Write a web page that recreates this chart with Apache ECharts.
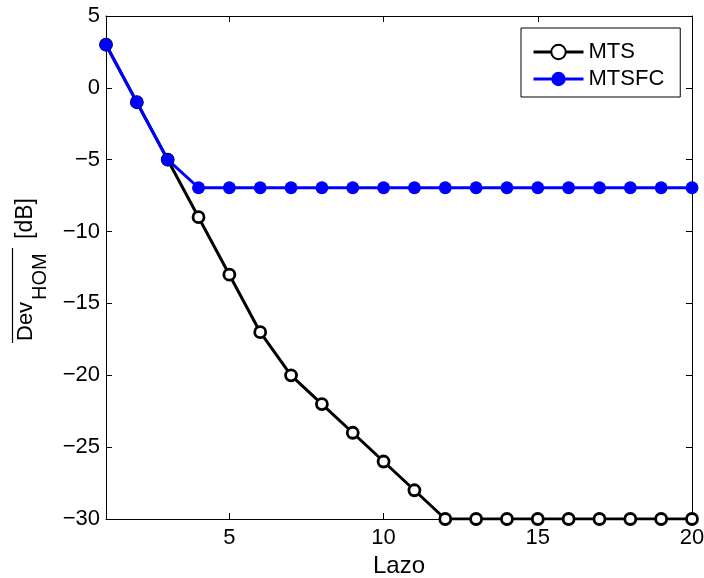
<!DOCTYPE html>
<html><head><meta charset="utf-8">
<script src="https://cdn.jsdelivr.net/npm/echarts@6/dist/echarts.min.js"></script>
<style>html,body{margin:0;padding:0;background:#fff}#c{width:704px;height:578px}</style>
</head><body><div id="c"></div>
<script>
const lazo = [1,2,3,4,5,6,7,8,9,10,11,12,13,14,15,16,17,18,19,20];
const mts = [3,-1,-5,-9,-13,-17,-20,-22,-24,-26,-28,-30,-30,-30,-30,-30,-30,-30,-30,-30];
const mtsfc = [3,-1,-5,-6.95,-6.95,-6.95,-6.95,-6.95,-6.95,-6.95,-6.95,-6.95,-6.95,-6.95,-6.95,-6.95,-6.95,-6.95,-6.95,-6.95];
const xTicks = [5,10,15,20];
const yTicks = [5,0,-5,-10,-15,-20,-25,-30];

const FONT = '"Liberation Sans", Arial, sans-serif';
const chart = echarts.init(document.getElementById('c'));
const fmt = v => String(v).replace('-', '\u2212');
const baseX = {
  type:'value', min:1, max:20,
  axisLine:{show:true, onZero:false, lineStyle:{color:'#000', width:1}},
  splitLine:{show:false},
  axisTick:{show:true, inside:true, length:6, customValues:xTicks, lineStyle:{color:'#000'}},
};
const baseY = {
  type:'value', min:-30, max:5, interval:5,
  axisLine:{show:true, onZero:false, lineStyle:{color:'#000', width:1}},
  splitLine:{show:false},
  axisTick:{show:true, inside:true, length:6, lineStyle:{color:'#000'}},
};
chart.setOption({
  animation:false,
  backgroundColor:'#fff',
  grid:{left:106, right:12, top:16, bottom:59, containLabel:false, outerBoundsMode:'none'},
  xAxis:[
    Object.assign({}, baseX, {position:'bottom',
      axisLabel:{show:true, customValues:xTicks, color:'#000', fontSize:22, fontFamily:FONT, margin:8, formatter:fmt},
      name:'Lazo', nameLocation:'middle', nameGap:31,
      nameTextStyle:{color:'#000', fontSize:24, fontFamily:FONT}}),
    Object.assign({}, baseX, {position:'top', axisLabel:{show:false}})
  ],
  yAxis:[
    Object.assign({}, baseY, {position:'left',
      axisLabel:{show:true, color:'#000', fontSize:22, fontFamily:FONT, margin:6, formatter:fmt}}),
    Object.assign({}, baseY, {position:'right', axisLabel:{show:false}})
  ],
  legend:{
    orient:'vertical', left:521, top:28,
    padding:[13,16,7,11], itemGap:5, itemWidth:50, itemHeight:18,
    backgroundColor:'#fff', borderColor:'#000', borderWidth:1, borderRadius:0,
    textStyle:{color:'#000', fontSize:22, fontFamily:FONT},
    lineStyle:{width:3},
    data:['MTS','MTSFC']
  },
  series:[
    {name:'MTS', type:'line', data:lazo.map((x,i)=>[x, mts[i]]),
     symbol:'circle', symbolSize:11, showAllSymbol:true,
     lineStyle:{color:'#000', width:3},
     itemStyle:{color:'#fff', borderColor:'#000', borderWidth:2.8}},
    {name:'MTSFC', type:'line', data:lazo.map((x,i)=>[x, mtsfc[i]]),
     symbol:'circle', symbolSize:13, showAllSymbol:true,
     lineStyle:{color:'#0000ff', width:3},
     itemStyle:{color:'#0000ff', borderColor:'#0000ff', borderWidth:0}}
  ],
  graphic:[{
    type:'group', x:26, y:341, rotation:Math.PI/2,
    children:[
      {type:'text', x:0, y:0, style:{text:'Dev', font:'22px '+FONT, fill:'#000', align:'left', verticalAlign:'middle'}},
      {type:'text', x:41, y:14, style:{text:'HOM', font:'20px '+FONT, fill:'#000', align:'left', verticalAlign:'middle'}},
      {type:'text', x:102, y:0, style:{text:'[dB]', font:'23px '+FONT, fill:'#000', align:'left', verticalAlign:'middle'}},
      {type:'line', shape:{x1:-2, y1:-13.5, x2:93, y2:-13.5}, style:{stroke:'#000', lineWidth:1.2}}
    ]
  }]
});
</script></body></html>
